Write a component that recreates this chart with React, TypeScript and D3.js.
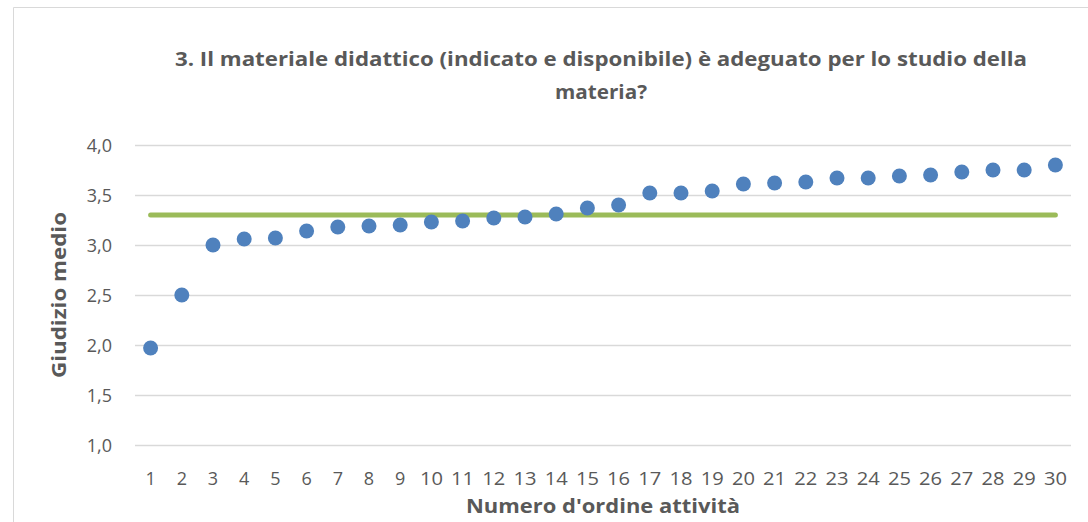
import React, { useEffect, useRef } from 'react'
import * as d3 from 'd3'

// Numero d'ordine attività
const activities = [
  '1', '2', '3', '4', '5', '6', '7', '8', '9', '10',
  '11', '12', '13', '14', '15', '16', '17', '18', '19', '20',
  '21', '22', '23', '24', '25', '26', '27', '28', '29', '30',
]

// Giudizio medio per attività
const ratings = [
  1.97, 2.5, 3.0, 3.06, 3.07, 3.14, 3.18, 3.19, 3.2, 3.23,
  3.24, 3.27, 3.28, 3.31, 3.37, 3.4, 3.52, 3.52, 3.54, 3.61,
  3.62, 3.63, 3.67, 3.67, 3.69, 3.7, 3.73, 3.75, 3.75, 3.8,
]

// media complessiva (linea verde)
const overallMean = 3.3

const yTicks = [1.0, 1.5, 2.0, 2.5, 3.0, 3.5, 4.0]

const titleLines = [
  '3. Il materiale didattico (indicato e disponibile) è adeguato per lo studio della',
  'materia?',
]

const W = 1088
const H = 522
const FONT = "'Open Sans', 'Noto Sans', sans-serif"
const TEXT = '#595959'

export default function App() {
  const svgRef = useRef<SVGSVGElement>(null)

  useEffect(() => {
    if (!svgRef.current) return
    const svg = d3.select(svgRef.current)
    svg.selectAll('*').remove()

    const left = 135
    const right = 1071
    const top = 145
    const bottom = 445

    const x = d3.scaleBand<string>().domain(activities).range([left, right]).padding(0)
    const y = d3.scaleLinear().domain([1, 4]).range([bottom, top])
    const cx = (d: string) => (x(d) ?? 0) + x.bandwidth() / 2

    // chart frame
    svg.append('path')
      .attr('d', `M13.5,${H} L13.5,7.5 L${W},7.5`)
      .attr('fill', 'none')
      .attr('stroke', '#d9d9d9')
      .attr('stroke-width', 1)

    // title
    svg.append('g')
      .selectAll('text')
      .data(titleLines)
      .join('text')
      .attr('x', 601)
      .attr('y', (_, i) => 66 + i * 33)
      .attr('text-anchor', 'middle')
      .attr('font-family', FONT)
      .attr('font-size', 19)
      .attr('font-weight', 'bold')
      .attr('fill', TEXT)
      .attr('textLength', (_, i) => (i === 0 ? 852 : 92))
      .attr('lengthAdjust', 'spacingAndGlyphs')
      .text(d => d)

    // grid lines
    svg.append('g')
      .attr('transform', `translate(${left},0)`)
      .call(d3.axisLeft(y).tickValues(yTicks).tickSize(-(right - left)).tickFormat(() => ''))
      .call(g => g.select('.domain').remove())
      .call(g => g.selectAll('.tick line').attr('stroke', '#d9d9d9').attr('stroke-width', 1.5))

    // y tick labels
    svg.append('g')
      .selectAll('text')
      .data(yTicks)
      .join('text')
      .attr('x', 112)
      .attr('y', d => y(d) + 6.5)
      .attr('text-anchor', 'end')
      .attr('font-family', FONT)
      .attr('font-size', 18)
      .attr('fill', TEXT)
      .text(d => d3.format('.1f')(d).replace('.', ','))

    // x tick labels
    svg.append('g')
      .selectAll('text')
      .data(activities)
      .join('text')
      .attr('x', d => cx(d))
      .attr('y', 485)
      .attr('text-anchor', 'middle')
      .attr('font-family', FONT)
      .attr('font-size', 18)
      .attr('fill', TEXT)
      .attr('textLength', d => (d.length > 1 ? 23 : null))
      .attr('lengthAdjust', 'spacingAndGlyphs')
      .text(d => d)

    // axis titles
    svg.append('text')
      .attr('x', 603)
      .attr('y', 513)
      .attr('text-anchor', 'middle')
      .attr('font-family', FONT)
      .attr('font-size', 19)
      .attr('font-weight', 'bold')
      .attr('fill', TEXT)
      .attr('textLength', 274)
      .attr('lengthAdjust', 'spacingAndGlyphs')
      .text("Numero d'ordine attività")

    svg.append('text')
      .attr('transform', `translate(66,295) rotate(-90)`)
      .attr('text-anchor', 'middle')
      .attr('font-family', FONT)
      .attr('font-size', 19)
      .attr('font-weight', 'bold')
      .attr('fill', TEXT)
      .attr('textLength', 166)
      .attr('lengthAdjust', 'spacingAndGlyphs')
      .text('Giudizio medio')

    // mean line
    const meanLine = d3.line<string>().x(d => cx(d)).y(() => y(overallMean))
    svg.append('path')
      .attr('d', meanLine([activities[0], activities[activities.length - 1]]))
      .attr('fill', 'none')
      .attr('stroke', '#9bbb59')
      .attr('stroke-width', 5)
      .attr('stroke-linecap', 'round')

    // points
    svg.append('g')
      .selectAll('circle')
      .data(ratings)
      .join('circle')
      .attr('cx', (_, i) => cx(activities[i]))
      .attr('cy', d => y(d))
      .attr('r', 7.5)
      .attr('fill', '#4f81bd')
  }, [])

  return (
    <div style={{ position: 'absolute', left: 0, top: 0, width: W, height: H, background: '#fff' }}>
      <svg ref={svgRef} width={W} height={H} />
    </div>
  )
}
